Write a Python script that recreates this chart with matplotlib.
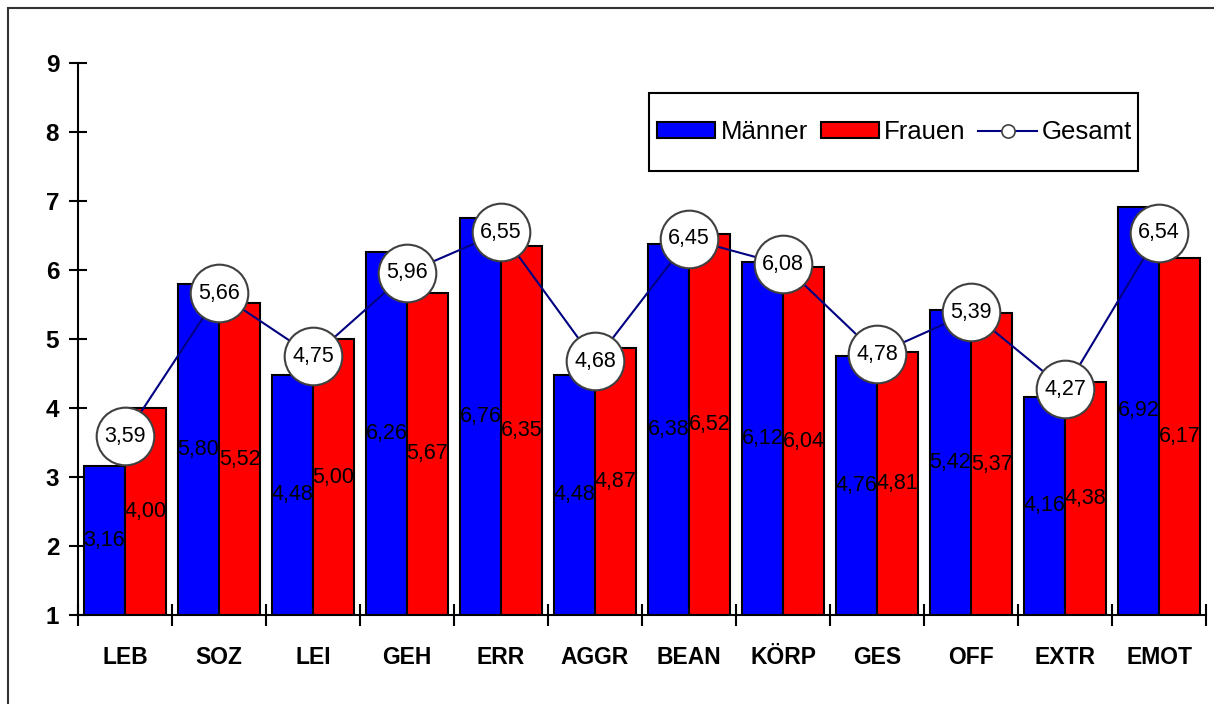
"""Männer / Frauen / Gesamt Mittelwerte je Skala."""

import matplotlib
matplotlib.use("Agg")
import matplotlib.pyplot as plt
import numpy as np
from matplotlib.lines import Line2D
from matplotlib.patches import Patch, Rectangle

plt.rcParams["font.family"] = ["Liberation Sans", "DejaVu Sans"]

categories = ["LEB", "SOZ", "LEI", "GEH", "ERR", "AGGR", "BEAN", "KÖRP", "GES", "OFF", "EXTR", "EMOT"]
maenner = [3.16, 5.80, 4.48, 6.26, 6.76, 4.48, 6.38, 6.12, 4.76, 5.42, 4.16, 6.92]
frauen = [4.00, 5.52, 5.00, 5.67, 6.35, 4.87, 6.52, 6.04, 4.81, 5.37, 4.38, 6.17]
gesamt = [3.59, 5.66, 4.75, 5.96, 6.55, 4.68, 6.45, 6.08, 4.78, 5.39, 4.27, 6.54]
y_ticks = [1, 2, 3, 4, 5, 6, 7, 8, 9]


def fmt(v):
    return f"{v:.2f}".replace(".", ",")


fig = plt.figure(figsize=(12.14, 7.04), dpi=100)
ax = fig.add_axes([0.06425, 0.12642, 0.9292, 0.78409])

# outer chart frame
fig.patches.append(Rectangle((8 / 1214, -0.2), 1.2, 1.2 - 8 / 704, transform=fig.transFigure,
                             fill=False, edgecolor="#333333", linewidth=1.5, clip_on=False))

x = np.arange(len(categories))
w = 0.436
base = 1
ax.bar(x - w / 2, np.array(maenner) - base, w, bottom=base, color="#0000ff", edgecolor="black", linewidth=1.5, zorder=2)
ax.bar(x + w / 2, np.array(frauen) - base, w, bottom=base, color="#ff0000", edgecolor="black", linewidth=1.5, zorder=2)

for xi, v in zip(x - w / 2, maenner):
    ax.text(xi, (v + base) / 2, fmt(v), ha="center", va="center", fontsize=15.5, zorder=3)
for xi, v in zip(x + w / 2, frauen):
    ax.text(xi, (v + base) / 2, fmt(v), ha="center", va="center", fontsize=15.5, zorder=3)

ax.plot(x, gesamt, color="#000080", linewidth=1.5, marker="o", markersize=41.5,
        markerfacecolor="white", markeredgecolor="#404040", markeredgewidth=1.5, zorder=4)
for xi, v in zip(x, gesamt):
    ax.text(xi, v, fmt(v), ha="center", va="center", fontsize=15.5, zorder=5)

ax.set_xlim(-0.5, len(categories) - 0.5)
ax.set_ylim(1, 9)
ax.set_yticks(y_ticks)
ax.set_yticklabels([str(t) for t in y_ticks], fontsize=17.5, fontweight="bold")
ax.set_xticks(x)
ax.set_xticklabels(categories, fontsize=16.5, fontweight="bold")
ax.set_xticks(np.arange(len(categories) + 1) - 0.5, minor=True)
ax.tick_params(axis="x", which="major", length=0, pad=22)
ax.tick_params(axis="x", which="minor", direction="inout", length=16, width=1.5)
ax.tick_params(axis="y", direction="inout", length=13, width=1.5, pad=7)

for s in ["top", "right"]:
    ax.spines[s].set_visible(False)
for s in ["left", "bottom"]:
    ax.spines[s].set_linewidth(1.5)

# legend box
ax.add_patch(Rectangle((0.5062, 0.8043), 0.4335, 0.1414, transform=ax.transAxes,
                       fill=False, edgecolor="black", linewidth=1.5, clip_on=False, zorder=6))
handles = [
    Patch(facecolor="#0000ff", edgecolor="black", linewidth=1.5),
    Patch(facecolor="#ff0000", edgecolor="black", linewidth=1.5),
    Line2D([], [], color="#000080", linewidth=1.5, marker="o", markersize=9.5,
           markerfacecolor="white", markeredgecolor="#404040", markeredgewidth=1.2),
]
ax.legend(handles, ["Männer", "Frauen", "Gesamt"], loc="center left", bbox_to_anchor=(0.5133, 0.875),
          ncol=3, frameon=False, fontsize=18.5, borderpad=0, borderaxespad=0,
          handlelength=2.27, handleheight=0.55, handletextpad=0.2, columnspacing=0.5)

fig.savefig("out.png", dpi=100)
